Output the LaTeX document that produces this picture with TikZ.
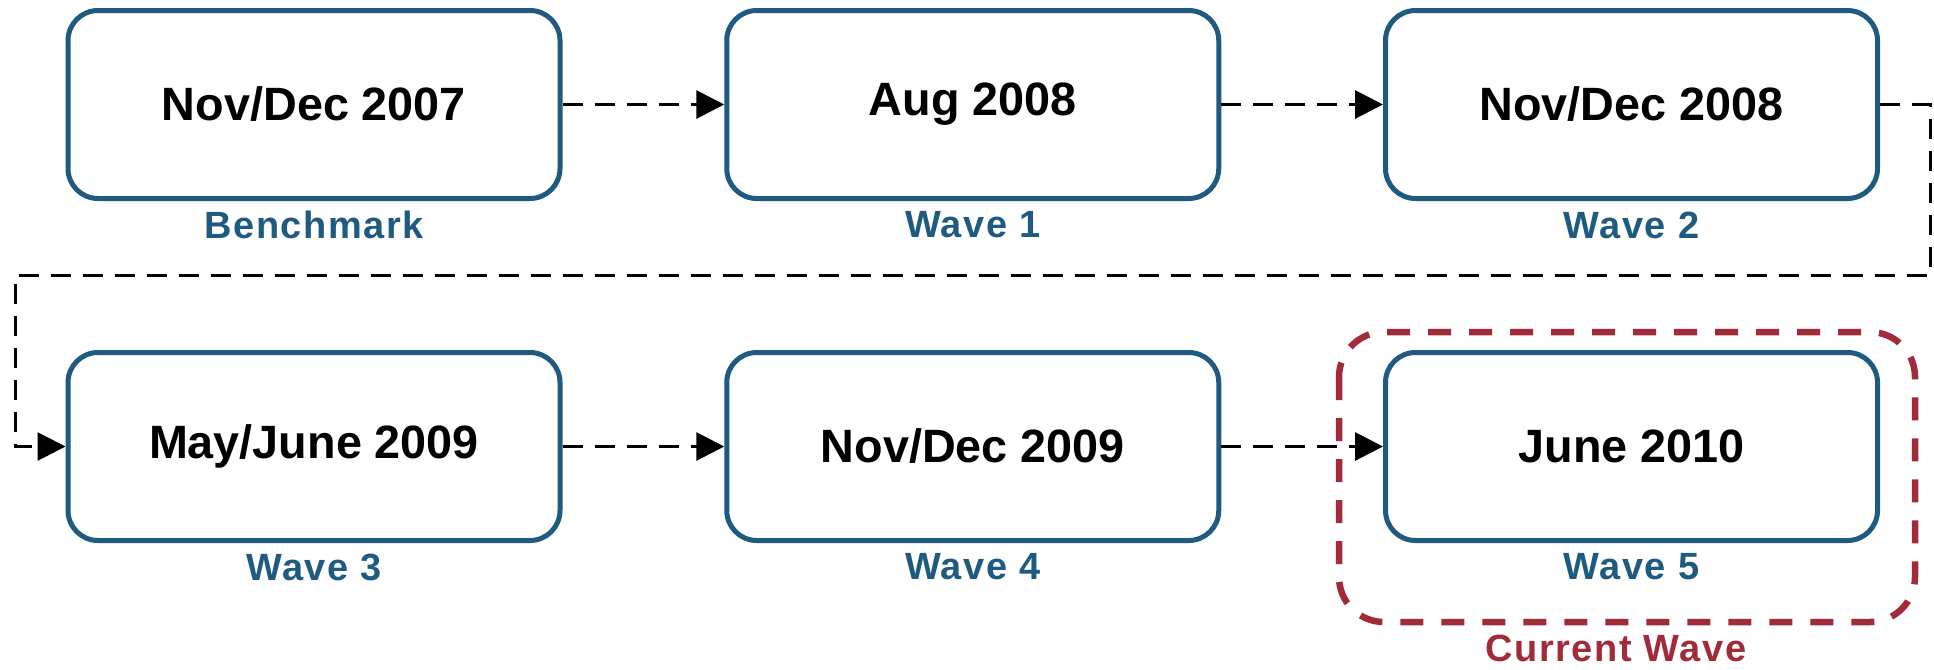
\documentclass[tikz,border=0pt]{standalone}
\usepackage{fontspec}
\setmainfont{Liberation Sans}
\newfontfamily\labelfont[LetterSpace=4]{Liberation Sans}
\usetikzlibrary{arrows.meta}

\definecolor{waveblue}{RGB}{31,91,128}
\definecolor{curred}{RGB}{161,42,59}

\begin{document}
\begin{tikzpicture}
\tikzset{datebox/.style = {draw=waveblue, line width=0.1cm, rounded corners=0.6cm, minimum width=9.84cm, minimum height=3.76cm, font=\fontsize{26.6}{30}\selectfont\bfseries}}
\tikzset{wavelabel/.style = {text=waveblue, font=\labelfont\fontsize{21.6}{25}\selectfont\bfseries}}
\tikzset{flow/.style = {-{Triangle[length=0.56cm,width=0.56cm]}, line width=0.06cm, dash pattern=on 0.4cm off 0.24cm}}
\useasboundingbox (0,0) rectangle (38.68,-13.38);

    \node[datebox] (d1) at (6.28,-2.09) {Nov/Dec 2007};
    \node[datebox] (d2) at (19.455,-2.09) {Aug 2008};
    \node[datebox] (d3) at (32.63,-2.09) {Nov/Dec 2008};
    \node[datebox] (d4) at (6.28,-8.93) {May/June 2009};
    \node[datebox] (d5) at (19.455,-8.93) {Nov/Dec 2009};
    \node[datebox] (d6) at (32.63,-8.93) {June 2010};

    \node[wavelabel] (w0) at (6.28,-4.5) {Benchmark};
    \node[wavelabel] (w1) at (19.455,-4.5) {Wave 1};
    \node[wavelabel] (w2) at (32.63,-4.5) {Wave 2};
    \node[wavelabel] (w3) at (6.28,-11.34) {Wave 3};
    \node[wavelabel] (w4) at (19.455,-11.34) {Wave 4};
    \node[wavelabel] (w5) at (32.63,-11.34) {Wave 5};

% current wave frame
\draw[curred, line width=0.13cm, rounded corners=0.9cm, dash pattern=on 0.46cm off 0.36cm] (26.78,-6.64) rectangle (38.3,-12.44);
    \node[wavelabel, text=curred, inner sep=1pt] (cur) at (32.32,-12.97) {Current Wave};

\draw[flow] (d1) -- (d2);
\draw[flow] (d2) -- (d3);
\draw[flow] (d4) -- (d5);
\draw[flow] (d5) -- (d6);

\coordinate (turnR) at (38.6,-5.5);
\coordinate (turnL) at (0.3,-5.5);
\draw[flow] (d3.east) -| (turnR) -- (turnL) |- (d4.west);
\end{tikzpicture}
\end{document}
